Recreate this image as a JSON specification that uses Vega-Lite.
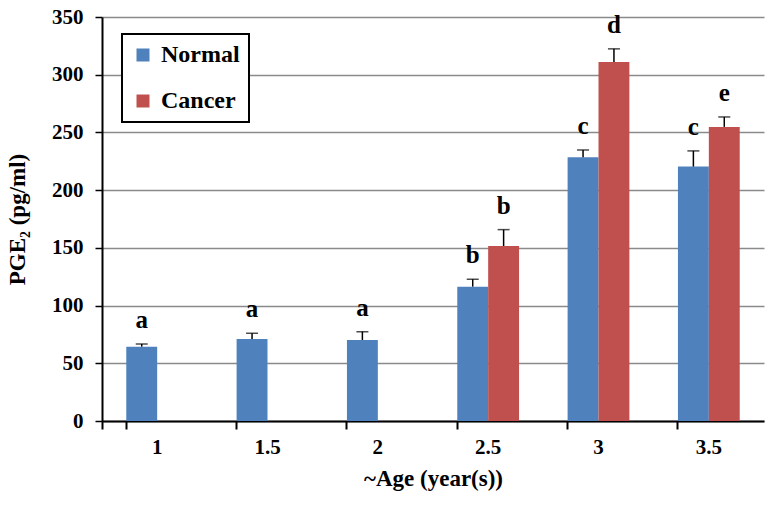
{
  "$schema": "https://vega.github.io/schema/vega-lite/v6.json",
  "width": 662,
  "height": 404,
  "autosize": "none",
  "padding": {"left": 102, "top": 17, "right": 10, "bottom": 84},
  "background": "white",
  "config": {
    "view": {"stroke": null},
    "font": "Liberation Serif",
    "axis": {"labelFont": "Liberation Serif", "titleFont": "Liberation Serif", "labelFontWeight": "bold", "titleFontWeight": "bold", "labelColor": "black", "titleColor": "black", "labelFontSize": 21, "titleFontSize": 23}
  },
  "data": {
    "values": [
      {"age": "1", "group": "Normal", "value": 64.4, "upper": 66.7, "letter": "a"},
      {"age": "1.5", "group": "Normal", "value": 71.1, "upper": 76.0, "letter": "a"},
      {"age": "2", "group": "Normal", "value": 70.2, "upper": 77.4, "letter": "a"},
      {"age": "2.5", "group": "Normal", "value": 116.4, "upper": 122.8, "letter": "b"},
      {"age": "2.5", "group": "Cancer", "value": 151.6, "upper": 165.8, "letter": "b"},
      {"age": "3", "group": "Normal", "value": 228.5, "upper": 234.8, "letter": "c"},
      {"age": "3", "group": "Cancer", "value": 311.1, "upper": 322.4, "letter": "d"},
      {"age": "3.5", "group": "Normal", "value": 220.4, "upper": 234.0, "letter": "c"},
      {"age": "3.5", "group": "Cancer", "value": 254.8, "upper": 263.4, "letter": "e"}
    ]
  },
  "encoding": {
    "x": {
      "field": "age", "type": "ordinal",
      "scale": {"paddingInner": 0.44, "paddingOuter": 0.22},
      "axis": {"title": "~Age (year(s))", "labelAngle": 0, "domainColor": "black", "domainWidth": 2, "tickColor": "black", "tickWidth": 2, "tickSize": 8, "bandPosition": 0, "tickExtra": true, "labelPadding": 7, "titlePadding": 10}
    },
    "xOffset": {"field": "group", "type": "nominal", "scale": {"domain": ["Normal", "Cancer"], "paddingInner": 0, "paddingOuter": 0}}
  },
  "layer": [
    {
      "mark": {"type": "bar"},
      "encoding": {
        "y": {
          "field": "value", "type": "quantitative",
          "scale": {"domain": [0, 350], "nice": false},
          "axis": {"title": "PGE₂ (pg/ml)", "values": [0, 50, 100, 150, 200, 250, 300, 350], "grid": true, "gridColor": "#8a8a8a", "gridWidth": 1.5, "domainColor": "black", "domainWidth": 2, "tickColor": "black", "tickWidth": 1.5, "tickSize": 7, "labelPadding": 12, "titlePadding": 22}
        },
        "color": {
          "field": "group", "type": "nominal",
          "scale": {"domain": ["Normal", "Cancer"], "range": ["#4F81BD", "#C0504D"]},
          "legend": {"title": null, "orient": "none", "legendX": 20, "legendY": 17, "strokeColor": "black", "fillColor": "white", "padding": 9, "rowPadding": 22, "symbolType": "square", "symbolSize": 169, "symbolStrokeWidth": 0, "labelFont": "Liberation Serif", "labelFontWeight": "bold", "labelFontSize": 24, "labelColor": "black", "labelOffset": 6, "encode": {"legend": {"update": {"strokeWidth": {"value": 2}}}}}
        }
      }
    },
    {
      "mark": {"type": "rule", "color": "black", "strokeWidth": 1.5},
      "encoding": {
        "y": {"field": "value", "type": "quantitative"},
        "y2": {"field": "upper"}
      }
    },
    {
      "mark": {"type": "tick", "color": "black", "thickness": 1.5, "size": 12, "orient": "horizontal"},
      "encoding": {
        "y": {"field": "upper", "type": "quantitative"}
      }
    },
    {
      "mark": {"type": "text", "font": "Liberation Serif", "fontWeight": "bold", "fontSize": 25, "color": "black", "baseline": "alphabetic", "dy": -16},
      "encoding": {
        "y": {"field": "upper", "type": "quantitative"},
        "text": {"field": "letter"}
      }
    }
  ]
}
